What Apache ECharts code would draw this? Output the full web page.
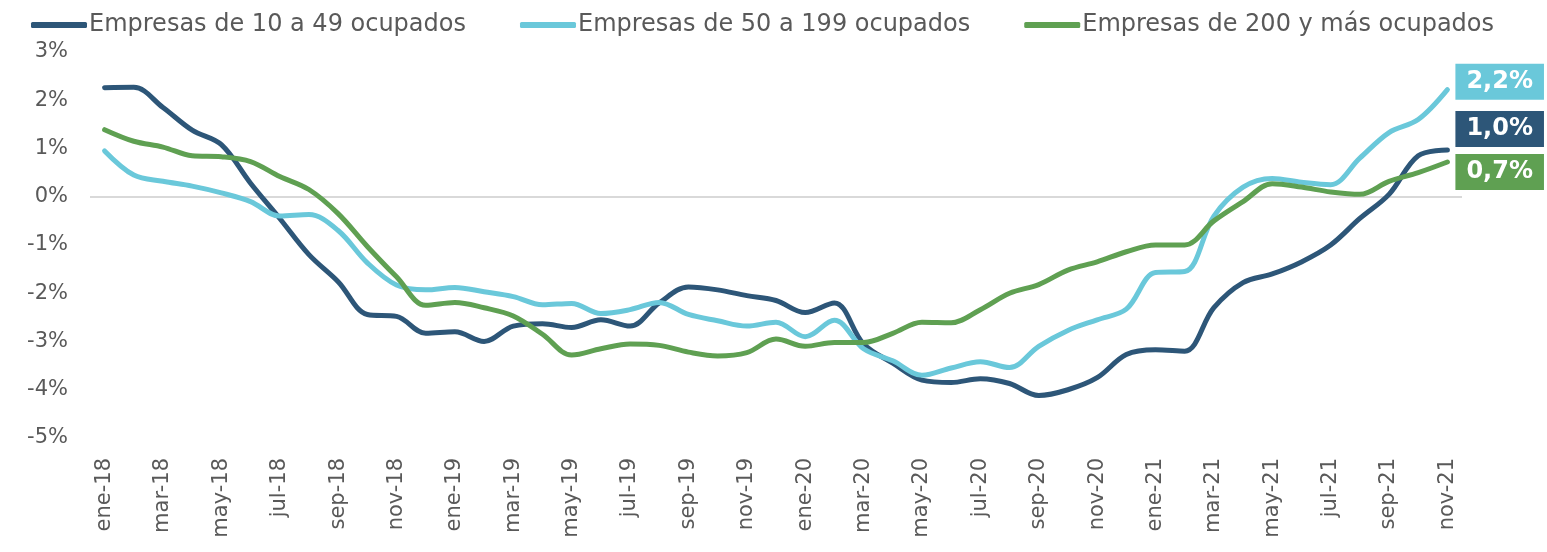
<!DOCTYPE html>
<html>
<head>
<meta charset="utf-8">
<script src="https://cdn.jsdelivr.net/npm/echarts@6/dist/echarts.min.js"></script>
<style>
  html, body { margin: 0; padding: 0; background: #ffffff; }
  #chart { width: 1547px; height: 552px; }
</style>
</head>
<body>
<div id="chart"></div>
<script>
const months = [
  'ene-18','feb-18','mar-18','abr-18','may-18','jun-18','jul-18','ago-18','sep-18','oct-18','nov-18','dic-18',
  'ene-19','feb-19','mar-19','abr-19','may-19','jun-19','jul-19','ago-19','sep-19','oct-19','nov-19','dic-19',
  'ene-20','feb-20','mar-20','abr-20','may-20','jun-20','jul-20','ago-20','sep-20','oct-20','nov-20','dic-20',
  'ene-21','feb-21','mar-21','abr-21','may-21','jun-21','jul-21','ago-21','sep-21','oct-21','nov-21'
];

const seriesNames = [
  'Empresas de 10 a 49 ocupados',
  'Empresas de 50 a 199 ocupados',
  'Empresas de 200 y más ocupados'
];

const emp10a49 = [2.26, 2.27, 1.85, 1.38, 1.08, 0.28, -0.45, -1.2, -1.76, -2.44, -2.48, -2.83,
  -2.8, -3.0, -2.68, -2.63, -2.71, -2.55, -2.68, -2.2, -1.87, -1.93, -2.05, -2.15,
  -2.4, -2.2, -3.05, -3.45, -3.8, -3.85, -3.77, -3.87, -4.12, -4.0, -3.75, -3.27,
  -3.17, -3.2, -2.3, -1.78, -1.6, -1.35, -1.0, -0.45, 0.05, 0.85, 0.97];

const emp50a199 = [0.95, 0.45, 0.32, 0.22, 0.08, -0.1, -0.4, -0.37, -0.7, -1.37, -1.83, -1.93,
  -1.88, -1.97, -2.07, -2.24, -2.21, -2.42, -2.34, -2.19, -2.44, -2.57, -2.68, -2.6,
  -2.9, -2.56, -3.15, -3.4, -3.7, -3.55, -3.42, -3.54, -3.1, -2.77, -2.55, -2.33,
  -1.57, -1.55, -0.4, 0.2, 0.38, 0.3, 0.25, 0.8, 1.33, 1.6, 2.22];

const emp200ymas = [1.39, 1.15, 1.03, 0.85, 0.83, 0.73, 0.42, 0.15, -0.35, -1.03, -1.66, -2.25,
  -2.19, -2.3, -2.47, -2.85, -3.28, -3.15, -3.05, -3.08, -3.22, -3.3, -3.23, -2.95,
  -3.1, -3.02, -3.02, -2.83, -2.6, -2.61, -2.34, -2.0, -1.82, -1.52, -1.35, -1.14,
  -1.0, -1.0, -0.5, -0.1, 0.27, 0.2, 0.1, 0.05, 0.32, 0.5, 0.72];

const colors = ['#2D5678', '#6AC8DA', '#5FA052'];
const FONT = 'DejaVu Sans';

function fmtPct(v) {
  return v.toFixed(1).replace('.', ',') + '%';
}

function makeSeries(name, data, color, dy) {
  return {
    name: name,
    type: 'line',
    data: data,
    smooth: 0.35,
    symbol: 'none',
    lineStyle: { width: 5, color: color, cap: 'round' },
    itemStyle: { color: color },
    endLabel: {
      show: true,
      formatter: function (p) { return fmtPct(p.value); },
      distance: 8,
      offset: [0, dy],
      backgroundColor: color,
      color: '#ffffff',
      fontFamily: FONT,
      fontWeight: 'bold',
      fontSize: 24,
      lineHeight: 26,
      padding: [5, 11, 5, 11]
    }
  };
}

const splitColors = ['rgba(0,0,0,0)','rgba(0,0,0,0)','rgba(0,0,0,0)','rgba(0,0,0,0)','rgba(0,0,0,0)','#d9d9d9','rgba(0,0,0,0)','rgba(0,0,0,0)','rgba(0,0,0,0)'];

const chart = echarts.init(document.getElementById('chart'), null, { renderer: 'canvas' });
chart.setOption({
  animation: false,
  backgroundColor: '#ffffff',
  legend: {
    left: 26,
    top: 8,
    itemWidth: 56,
    itemHeight: 6,
    itemGap: 54,
    icon: 'roundRect',
    textStyle: { fontFamily: FONT, fontSize: 24, color: '#595959', padding: [0, 0, 0, -3] },
    data: seriesNames
  },
  grid: { left: 90, right: 85, top: 52, bottom: 114, containLabel: false },
  xAxis: {
    type: 'category',
    data: months,
    boundaryGap: true,
    axisLine: { show: false },
    axisTick: { show: false },
    axisLabel: {
      interval: 1,
      rotate: 90,
      margin: 20,
      fontFamily: FONT,
      fontSize: 21,
      color: '#595959'
    },
    splitLine: { show: false }
  },
  yAxis: {
    type: 'value',
    min: -5,
    max: 3,
    interval: 1,
    axisLine: { show: false },
    axisTick: { show: false },
    axisLabel: {
      formatter: '{value}%',
      fontFamily: FONT,
      fontSize: 21,
      color: '#595959',
      margin: 22
    },
    splitLine: { show: true, lineStyle: { color: splitColors, width: 2 } }
  },
  series: [
    makeSeries(seriesNames[0], emp10a49, colors[0], -21),
    makeSeries(seriesNames[1], emp50a199, colors[1], -8),
    makeSeries(seriesNames[2], emp200ymas, colors[2], 10)
  ]
});
</script>
</body>
</html>
